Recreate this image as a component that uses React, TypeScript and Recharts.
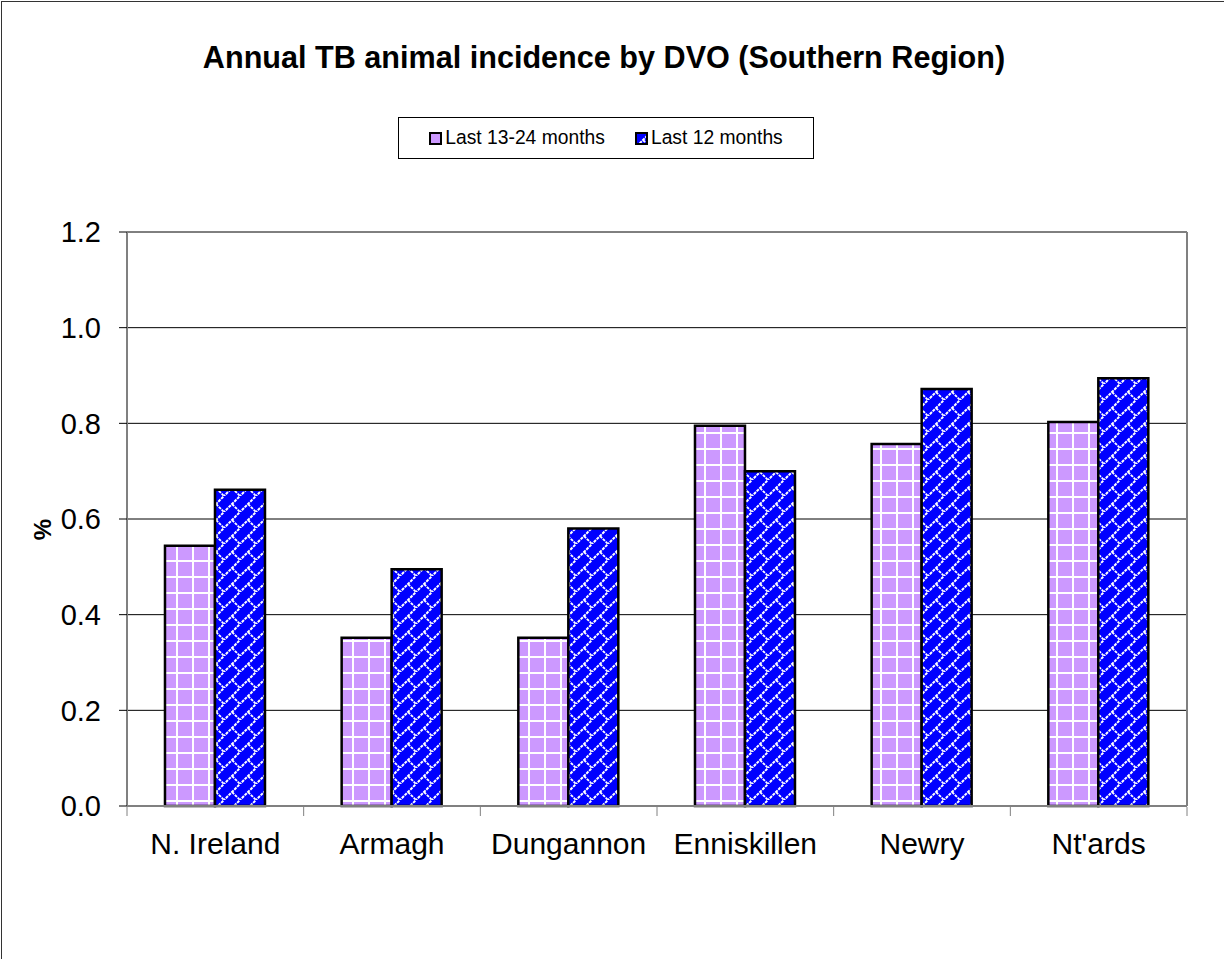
import { BarChart, Bar, XAxis, YAxis, CartesianGrid } from 'recharts'

const districts = ['N. Ireland', 'Armagh', 'Dungannon', 'Enniskillen', 'Newry', "Nt'ards"]
const prev13to24 = [0.544, 0.352, 0.352, 0.795, 0.757, 0.803]
const last12 = [0.661, 0.495, 0.58, 0.7, 0.872, 0.894]
const yTicks = [0, 0.2, 0.4, 0.6, 0.8, 1.0, 1.2]
const boundaryTicks = [0, 1, 2, 3, 4, 5, 6]

const data = districts.map((name, i) => ({
  name,
  idx: i + 0.5,
  prev: prev13to24[i],
  last: last12[i],
}))

const FONT = 'Arial, "Liberation Sans", sans-serif'

function Patterns() {
  return (
    <svg width={0} height={0} style={{ position: 'absolute' }}>
      <defs>
        <pattern id="gridPurple" width={16} height={16} patternUnits="userSpaceOnUse">
          <rect width={16} height={16} fill="#CC99FF" />
          <rect x={0} y={0} width={16} height={2} fill="#fff" />
          <rect x={0} y={0} width={2} height={16} fill="#fff" />
        </pattern>
        <pattern id="diagBlue" width={16} height={16} patternUnits="userSpaceOnUse">
          <rect width={16} height={16} fill="#0000FF" />
          <line x1={-1} y1={17} x2={17} y2={-1} stroke="#fff" strokeWidth={2} strokeDasharray="3 1" />
          <line x1={8} y1={8} x2={16} y2={16} stroke="#fff" strokeWidth={1.8} strokeDasharray="3 1" />
        </pattern>
      </defs>
    </svg>
  )
}

function LegendBox() {
  const item = (fill: string, label: string) => (
    <div style={{ display: 'flex', alignItems: 'center', gap: 3 }}>
      <svg width={13} height={13}>
        <rect x={1} y={1} width={11} height={11} fill={fill} stroke="#000" strokeWidth={2} />
      </svg>
      <span>{label}</span>
    </div>
  )
  return (
    <div
      style={{
        position: 'absolute',
        left: 398,
        top: 117,
        width: 416,
        height: 42,
        boxSizing: 'border-box',
        border: '1px solid #000',
        display: 'flex',
        alignItems: 'center',
        justifyContent: 'center',
        gap: 30,
        fontFamily: FONT,
        fontSize: 19.3,
        color: '#000',
      }}
    >
      {item('url(#gridPurple)', 'Last 13-24 months')}
      {item('url(#diagBlue)', 'Last 12 months')}
    </div>
  )
}

export default function App() {
  return (
    <div style={{ position: 'absolute', left: 0, top: 0, width: 1224, height: 959, background: '#fff' }}>
      <Patterns />
      <div
        style={{
          position: 'absolute',
          left: 1,
          top: 1,
          width: 1223,
          height: 958,
          borderTop: '1px solid #333',
          borderLeft: '1px solid #333',
        }}
      />
      <div
        style={{
          position: 'absolute',
          left: 0,
          top: 40,
          width: 1208,
          textAlign: 'center',
          fontFamily: FONT,
          fontWeight: 'bold',
          fontSize: 30.6,
          color: '#000',
        }}
      >
        Annual TB animal incidence by DVO (Southern Region)
      </div>
      <LegendBox />
      <div style={{ position: 'absolute', left: 0, top: 0 }}>
        <BarChart
          width={1224}
          height={959}
          data={data}
          margin={{ top: 232, right: 37, bottom: 151, left: 67 }}
          barCategoryGap="21.5%"
          barGap={0}
        >
          <CartesianGrid vertical={false} stroke="#000" strokeWidth={1} />
          <CartesianGrid
            horizontal={false}
            verticalCoordinatesGenerator={() => [1187]}
            stroke="#808080"
            strokeWidth={2}
          />
          <XAxis
            dataKey="name"
            height={1}
            axisLine={{ stroke: '#808080', strokeWidth: 2 }}
            tickLine={false}
            tickMargin={21}
            tick={{ fill: '#000', fontSize: 30, fontFamily: FONT }}
            interval={0}
          />
          <XAxis
            xAxisId="bounds"
            type="number"
            dataKey="idx"
            domain={[0, 6]}
            ticks={boundaryTicks}
            height={1}
            axisLine={false}
            tickLine={{ stroke: '#808080', strokeWidth: 1 }}
            tickSize={9}
            tickFormatter={() => ''}
          />
          <YAxis
            width={60}
            domain={[0, 1.2]}
            ticks={yTicks}
            interval={0}
            tickFormatter={(v: number) => v.toFixed(1)}
            axisLine={{ stroke: '#808080', strokeWidth: 2 }}
            tickLine={{ stroke: '#000', strokeWidth: 1 }}
            tickSize={8}
            tickMargin={18}
            tick={{ fill: '#000', fontSize: 29, fontFamily: FONT }}
            label={{
              value: '%',
              angle: -90,
              position: 'left',
              offset: 25,
              style: { fill: '#000', fontSize: 24, fontWeight: 'bold', fontFamily: FONT },
            }}
          />
          <Bar
            dataKey="prev"
            name="Last 13-24 months"
            fill="url(#gridPurple)"
            stroke="#000"
            strokeWidth={2.5}
            isAnimationActive={false}
          />
          <Bar
            dataKey="last"
            name="Last 12 months"
            fill="url(#diagBlue)"
            stroke="#000"
            strokeWidth={2.5}
            isAnimationActive={false}
          />
        </BarChart>
      </div>
    </div>
  )
}
